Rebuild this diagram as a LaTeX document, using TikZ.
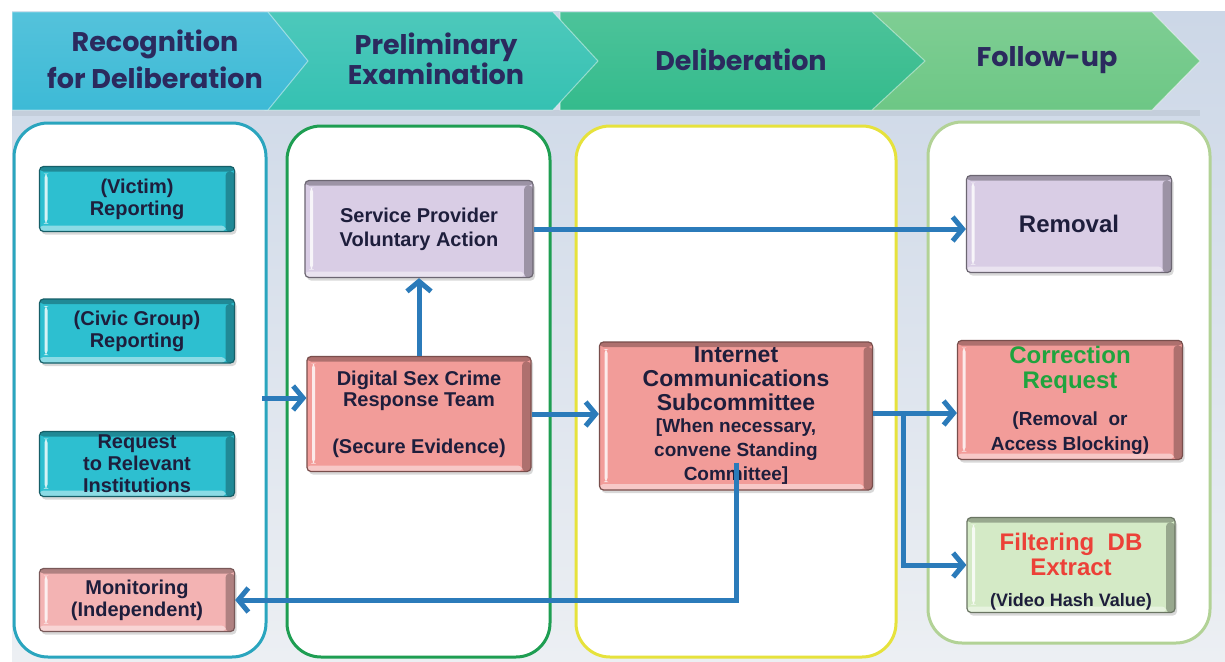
\documentclass[tikz,border=0pt]{standalone}
\usepackage{fontspec}
\setmainfont{Liberation Sans}
\newfontfamily\headfont{Poppins}
\usetikzlibrary{arrows.meta,shadows,calc}
\definecolor{hdtext}{HTML}{2B2A5E}
\definecolor{chevA}{HTML}{3DBAD6}
\definecolor{chevB}{HTML}{35C1B2}
\definecolor{chevC}{HTML}{34BB8C}
\definecolor{chevD}{HTML}{6DC785}
\definecolor{bgtop}{HTML}{CCD7E7}
\definecolor{bgbot}{HTML}{ECEFF3}
\definecolor{panA}{HTML}{2AA5BE}
\definecolor{panB}{HTML}{1E9E52}
\definecolor{panC}{HTML}{E6E23C}
\definecolor{panD}{HTML}{B2D296}
\definecolor{cyanbox}{HTML}{2DBFD0}
\definecolor{pinkbox}{HTML}{F3B3B3}
\definecolor{lavbox}{HTML}{D9CDE5}
\definecolor{salbox}{HTML}{F29C99}
\definecolor{grnbox}{HTML}{D4EAC6}
\definecolor{arrowblue}{HTML}{2B7BBA}
\definecolor{boxtext}{HTML}{1E1E3C}
\definecolor{corrgreen}{HTML}{1FA43E}
\definecolor{filtred}{HTML}{EC4138}
\def\ppb{path picture bounding box}
\newcommand\smlA{\fontsize{19}{20}\selectfont}
\newcommand\smlB{\fontsize{19}{23}\selectfont}
\newcommand\smlC{\fontsize{18}{20}\selectfont}
\tikzset{
  chev/.style={top color=#1!88!white, bottom color=#1, draw=white, draw opacity=.45, line width=1pt},
  hd/.style={text=hdtext, align=center, font=\headfont\bfseries\fontsize{27}{30}\selectfont},
  panel/.style={draw=#1, line width=3pt, fill=white, rounded corners=34pt},
  bevel/.style={rectangle, rounded corners=4pt, fill=#1, draw=#1!50!black, line width=1.2pt,
    align=center, inner sep=0pt, text=boxtext,
    drop shadow={opacity=.3, shadow xshift=2pt, shadow yshift=-3pt},
    path picture={
      \fill[black,opacity=.28] (\ppb.north west) rectangle ([yshift=-5pt]\ppb.north east);
      \fill[black,opacity=.28] ([yshift=-5pt]\ppb.north east) rectangle ([xshift=-9pt]\ppb.south east);
      \fill[white,opacity=.45] (\ppb.south west) rectangle ([xshift=-9pt,yshift=6pt]\ppb.south east);
      \fill[white,opacity=.8] ([xshift=5pt,yshift=-7pt]\ppb.north west) rectangle ([xshift=8pt,yshift=8pt]\ppb.south west);
    }},
  sz/.style 2 args={font=\bfseries\fontsize{#1}{#2}\selectfont},
  flow/.style={draw=arrowblue, line width=5pt, -{Straight Barb[length=10pt,width=24pt]}}
}
\begin{document}
\begin{tikzpicture}[x=1pt,y=-1pt]
\useasboundingbox (0,0) rectangle (1225,661);
\fill[white] (0,0) rectangle (1225,661);
\shade[top color=bgtop, bottom color=bgbot] (12,12) rectangle (1225,661);
% banner
\fill[black,opacity=.06] (12,110) rectangle (1200,116);
\shade[chev=chevD] (860,12) -- (1152,12) -- (1200,61) -- (1152,110) -- (860,110) -- cycle;
\shade[chev=chevC] (560,12) -- (872,12) -- (925,61) -- (872,110) -- (560,110) -- cycle;
\shade[chev=chevB] (265,12) -- (553,12) -- (598,61) -- (553,110) -- (265,110) -- cycle;
\shade[chev=chevA] (12,12) -- (268,12) -- (308,61) -- (268,110) -- (12,110) -- cycle;
\node[hd, font=\headfont\bfseries\fontsize{27}{37}\selectfont] (h1) at (155,59) {Recognition\\for Deliberation};
\node[hd, font=\headfont\bfseries\fontsize{27}{28}\selectfont] (h2) at (436,59) {Preliminary\\Examination};
\node[hd] (h3) at (741,60) {Deliberation};
\node[hd] (h4) at (1047,60) {Follow-up};
% panels
\path[panel=panA] (14,123) rectangle (266,657);
\path[panel=panB] (287,126) rectangle (550,657);
\path[panel=panC] (576,126) rectangle (896,657);
\path[panel=panD] (928,122) rectangle (1210,643);
% boxes
\node[bevel=cyanbox, minimum width=195pt, minimum height=65pt, sz={20}{22}] (vic) at (137,199) {(Victim)\\Reporting};
\node[bevel=cyanbox, minimum width=195pt, minimum height=64pt, sz={20}{22}] (civ) at (137,331) {(Civic Group)\\Reporting};
\node[bevel=cyanbox, minimum width=195pt, minimum height=65pt, sz={20}{22}] (req) at (137,464) {Request\\to Relevant\\Institutions};
\node[bevel=pinkbox, minimum width=195pt, minimum height=63pt, sz={20}{22}] (mon) at (137,600) {Monitoring\\(Independent)};
\node[bevel=lavbox, minimum width=228pt, minimum height=97pt, sz={20}{24}] (sp) at (419,229) {Service Provider\\Voluntary Action};
\node[bevel=salbox, minimum width=224pt, minimum height=115pt, sz={20}{21}] (dsc) at (419,414) {Digital Sex Crime\\Response Team\\[26pt](Secure Evidence)};
\node[bevel=salbox, minimum width=273pt, minimum height=148pt, sz={23}{24}] (ic) at (736,416)
  {Internet\\Communications\\Subcommittee\\[-2pt]\smlA [When necessary,\\\smlA convene Standing\\\smlA Committee]};
\node[bevel=lavbox, minimum width=205pt, minimum height=97pt, sz={24}{26}] (rem) at (1069,224) {Removal};
\node[bevel=salbox, minimum width=225pt, minimum height=119pt, sz={24}{25}] (cr) at (1070,400)
  {\color{corrgreen}Correction\\\color{corrgreen}Request\\[12pt]\smlB (Removal\ \ or\\\smlB Access Blocking)};
\node[bevel=grnbox, minimum width=208pt, minimum height=95pt, sz={24}{25}] (fdb) at (1071,565)
  {\color{filtred}\rule{0pt}{30pt}Filtering\ \ DB\\\color{filtred}Extract\\[6pt]\smlC (Video Hash Value)};
% connectors
\coordinate (p1out) at (262,398);
\coordinate (br) at (903,413);
\draw[flow] (p1out) -- (dsc.west |- p1out);
\draw[flow] (dsc.north) -- (sp.south);
\draw[flow] (sp.east) -- (sp.east -| rem.west);
\draw[flow] (dsc.east) -- (dsc.east -| ic.west);
\draw[flow] (ic.east |- br) -- (br -| cr.west);
\draw[flow] (br) |- (fdb.west);
\draw[flow] ([yshift=28pt]ic.south) |- (mon.east);
\end{tikzpicture}
\end{document}
